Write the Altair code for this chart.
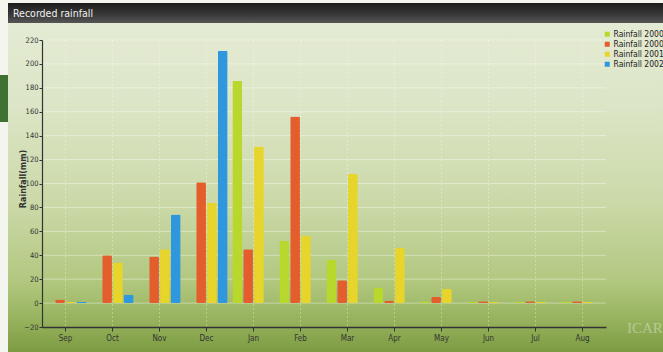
import altair as alt
import pandas as pd

# Monthly rainfall (mm) per season series
months = ["Sep", "Oct", "Nov", "Dec", "Jan", "Feb", "Mar", "Apr", "May", "Jun", "Jul", "Aug"]
series_keys = ["s1", "s2", "s3", "s4"]
series_labels = ["Rainfall 2000", "Rainfall 2000", "Rainfall 2001", "Rainfall 2002"]
series_colors = ["#b9d82e", "#e35e2c", "#e8d52c", "#2f97de"]

rain_s1 = [None, None, None, None, 186, 52, 36, 13, 1.5, 1, 1, 1]
rain_s2 = [3, 40, 39, 101, 45, 156, 19, 2, 5, 1.5, 1.5, 1.5]
rain_s3 = [1, 34, 45, 84, 131, 56, 108, 46, 12, 1, 1, 1]
rain_s4 = [1, 7, 74, 211, None, None, None, None, None, None, None, None]

y_ticks = list(range(-20, 221, 20))

rows = []
for key, vals in zip(series_keys, [rain_s1, rain_s2, rain_s3, rain_s4]):
    for m, v in zip(months, vals):
        if v is not None:
            rows.append({"month": m, "series": key, "value": v})
bars_df = pd.DataFrame(rows)

one = pd.DataFrame({"k": [0]})

label_map = "{" + ",".join(f"'{k}':'{l}'" for k, l in zip(series_keys, series_labels)) + "}"

W, H = 564, 287
PAD_L, PAD_T = 42, 40

# page backdrop pieces (pixel coordinates relative to the plot area)
def box(x0, x1, y0, y1, color):
    return alt.Chart(one).mark_rect(color=color).encode(
        x=alt.value(x0), x2=alt.value(x1), y=alt.value(y0), y2=alt.value(y1)
    )

panel = box(-PAD_L + 8, 663 - PAD_L, -PAD_T + 23, 352 - PAD_T, alt.Gradient(
    gradient="linear", x1=0, x2=0, y1=0, y2=1,
    stops=[
        alt.GradientStop(color="#e4ebd4", offset=0.0),
        alt.GradientStop(color="#dce5c6", offset=0.25),
        alt.GradientStop(color="#cbd9a8", offset=0.55),
        alt.GradientStop(color="#b2c880", offset=0.78),
        alt.GradientStop(color="#9cb764", offset=0.88),
        alt.GradientStop(color="#7d9c42", offset=1.0),
    ]))

title_bar = box(-PAD_L + 8, 663 - PAD_L, -PAD_T + 3, -PAD_T + 23, alt.Gradient(
    gradient="linear", x1=0, x2=0, y1=0, y2=1,
    stops=[
        alt.GradientStop(color="#1c1c1c", offset=0.0),
        alt.GradientStop(color="#3a3a3a", offset=0.6),
        alt.GradientStop(color="#555555", offset=1.0),
    ]))

left_strip = box(-PAD_L, -PAD_L + 8, -PAD_T, 352 - PAD_T, "#f3f5ee")
top_strip = box(-PAD_L, 663 - PAD_L, -PAD_T, -PAD_T + 3, "#f3f5ee")
green_tab = box(-PAD_L, -PAD_L + 8, 75 - PAD_T, 122 - PAD_T, "#3f7232")

title_text = alt.Chart(one).mark_text(
    text="Recorded rainfall", color="#f2f2f2", fontSize=10.5,
    font="DejaVu Sans Condensed", align="left", baseline="middle"
).encode(x=alt.value(-PAD_L + 13), y=alt.value(-PAD_T + 14))

watermark = alt.Chart(one).mark_text(
    text="ICAR", color="#ffffff", opacity=0.35, fontSize=15,
    font="Liberation Serif", align="left", baseline="middle"
).encode(x=alt.value(627 - PAD_L), y=alt.value(328 - PAD_T))

y_scale = alt.Scale(domain=[-20, 220], nice=False, zero=False)
x_scale = alt.Scale(domain=months, paddingInner=0.1, paddingOuter=0.05)

y_axis = alt.Axis(values=y_ticks, orient="left", labelFontSize=7.5,
                  labelColor="#333333", labelFont="DejaVu Sans Condensed",
                  tickColor="#333333", tickSize=3, labelPadding=1,
                  domainColor="#333333", domainWidth=1.2, grid=False,
                  titleFontSize=8, titleFont="DejaVu Sans",
                  titleColor="#333333", titleFontWeight="bold",
                  titleX=-15, titleY=H / 2 - 5, titleAngle=270,
                  titleAlign="center", titleBaseline="bottom", zindex=2)
x_axis = alt.Axis(labelAngle=0, labelFontSize=8, labelColor="#333333",
                  labelFont="DejaVu Sans Condensed", tickColor="#333333", tickSize=4,
                  domainColor="#333333", domainWidth=1.5, labelPadding=3,
                  grid=False, zindex=2)

# faint grid drawn under the bars
hgrid = alt.Chart(pd.DataFrame({"value": y_ticks[1:-1]})).mark_rule(
    color="#ffffff", opacity=0.4, strokeWidth=1
).encode(y=alt.Y("value:Q", scale=y_scale, title="Rainfall(mm)", axis=y_axis))

top_grid = alt.Chart(pd.DataFrame({"value": [220]})).mark_rule(
    color="#ffffff", opacity=0.6, strokeDash=[2, 2]
).encode(y=alt.Y("value:Q", scale=y_scale, title="Rainfall(mm)", axis=y_axis))

vgrid = alt.Chart(pd.DataFrame({"month": months})).mark_rule(
    color="#ffffff", opacity=0.3, strokeDash=[2, 2], strokeWidth=1
).encode(x=alt.X("month:N", scale=x_scale, bandPosition=0.5, sort=months,
                 title=None, axis=x_axis))

bars = alt.Chart(bars_df).mark_bar(cornerRadius=1.5, stroke=None).encode(
    x=alt.X("month:N", sort=months, title=None, scale=x_scale, axis=x_axis),
    xOffset=alt.XOffset("series:N", sort=series_keys,
                        scale=alt.Scale(paddingInner=0.1)),
    y=alt.Y("value:Q", scale=y_scale, title="Rainfall(mm)", axis=y_axis),
    color=alt.Color("series:N", sort=series_keys,
                    scale=alt.Scale(domain=series_keys, range=series_colors),
                    legend=alt.Legend(title=None, orient="none",
                                      legendX=561, legendY=-10,
                                      symbolType="square", symbolSize=25,
                                      symbolStrokeWidth=0,
                                      labelFontSize=8.5, labelColor="#222222",
                                      labelFont="DejaVu Sans Condensed",
                                      labelExpr=f"{label_map}[datum.value]",
                                      rowPadding=1, symbolOffset=0,
                                      labelOffset=2, zindex=2)),
)

chart = alt.layer(
    panel, title_bar, left_strip, top_strip, green_tab, title_text, watermark,
    hgrid, vgrid, top_grid, bars
).properties(
    width=W, height=H,
    padding={"left": PAD_L, "top": PAD_T, "right": 663 - PAD_L - W, "bottom": 352 - PAD_T - H},
    autosize=alt.AutoSizeParams(type="none"),
    background="#f3f5ee",
).configure_view(stroke=None)

chart.save("out.html", embed_options={"renderer": "svg", "actions": False})
